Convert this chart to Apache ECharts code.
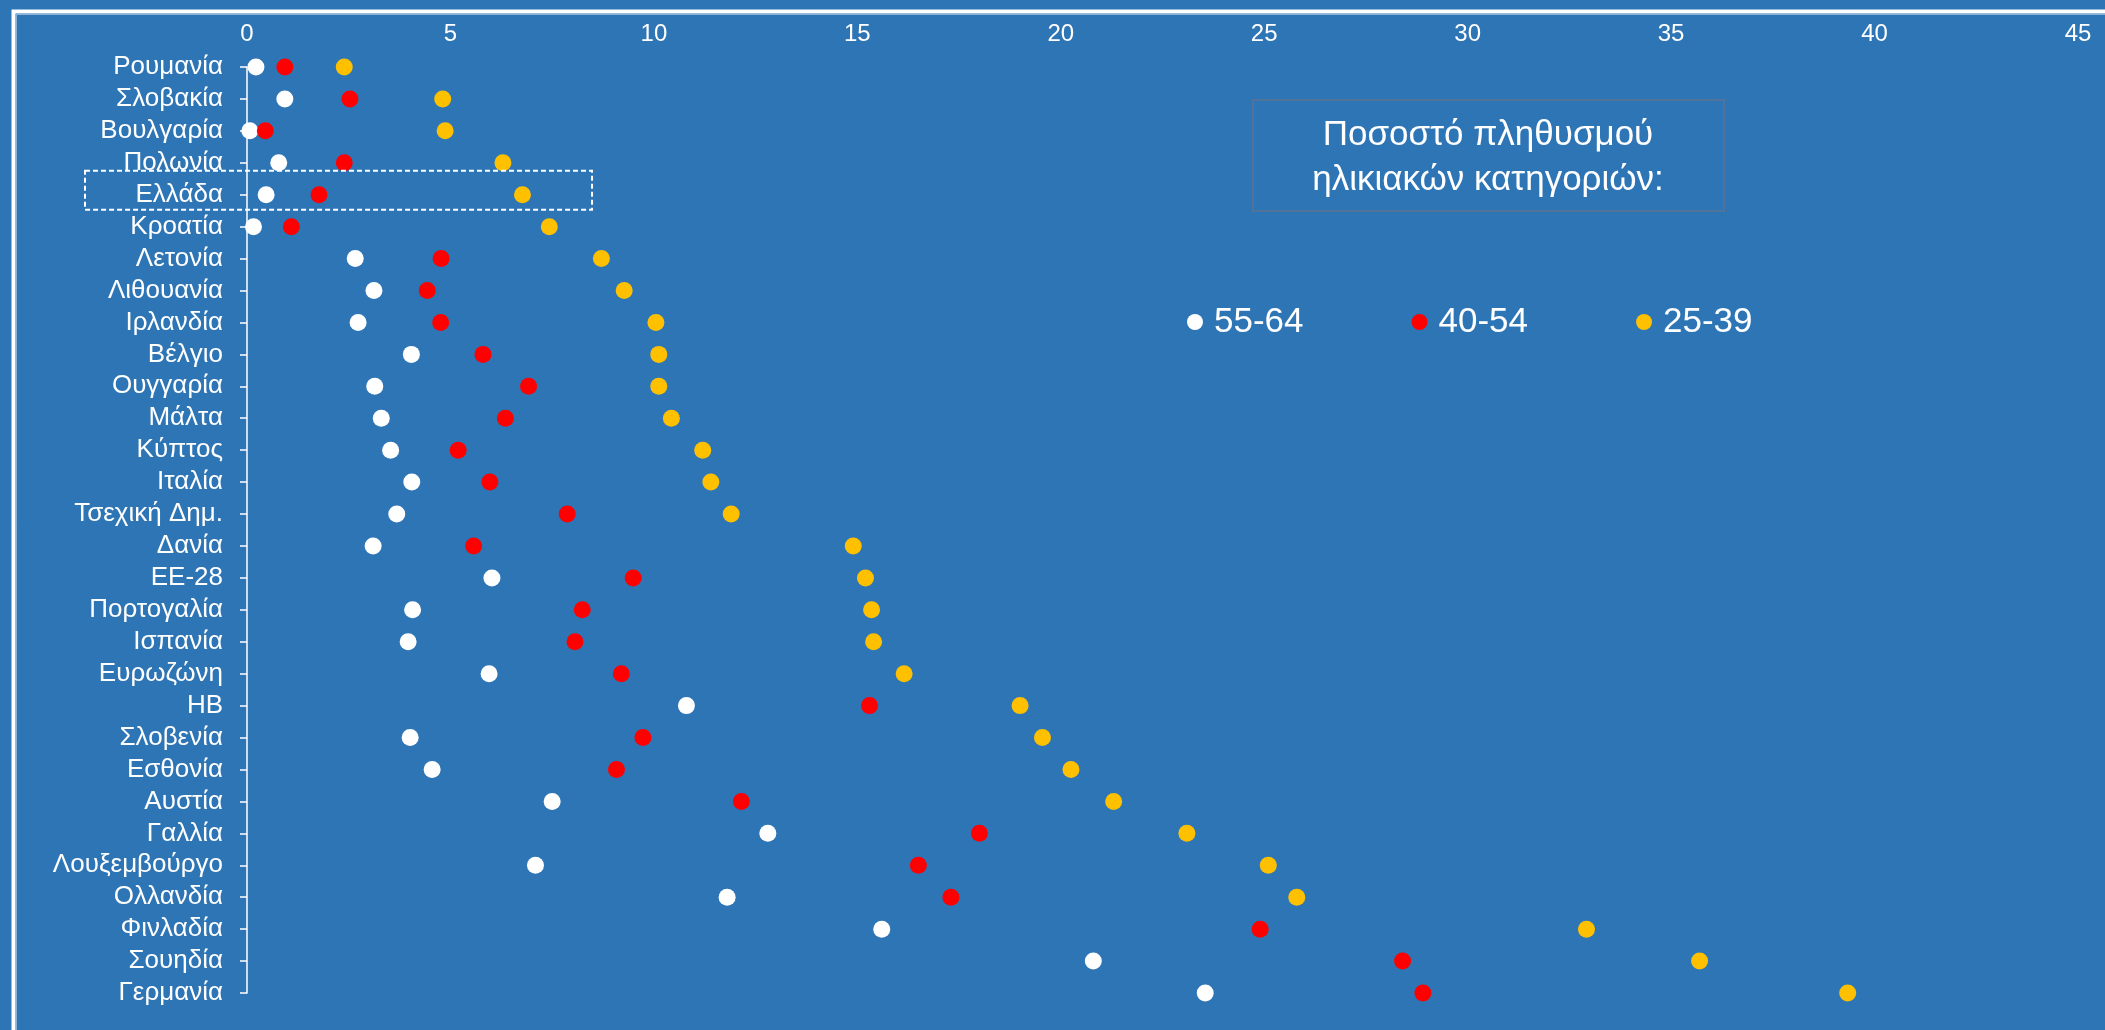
<!DOCTYPE html>
<html>
<head>
<meta charset="utf-8">
<script src="https://cdn.jsdelivr.net/npm/echarts@6/dist/echarts.min.js"></script>
<style>
html,body{margin:0;padding:0;background:#2E75B6;}
#chart{width:2105px;height:1030px;}
</style>
</head>
<body>
<div id="chart"></div>
<script>
const categories = ['Ρουμανία','Σλοβακία','Βουλγαρία','Πολωνία','Ελλάδα','Κροατία','Λετονία','Λιθουανία','Ιρλανδία','Βέλγιο','Ουγγαρία','Μάλτα','Κύπτος','Ιταλία','Τσεχική Δημ.','Δανία','ΕΕ-28','Πορτογαλία','Ισπανία','Ευρωζώνη','ΗΒ','Σλοβενία','Εσθονία','Αυστία','Γαλλία','Λουξεμβούργο','Ολλανδία','Φινλαδία','Σουηδία','Γερμανία'];
const seriesNames = ['55-64','40-54','25-39'];
const age55_64 = [0.22,0.93,0.07,0.78,0.47,0.16,2.66,3.12,2.73,4.04,3.14,3.3,3.53,4.05,3.68,3.1,6.02,4.07,3.96,5.95,10.8,4.01,4.55,7.5,12.8,7.09,11.8,15.6,20.8,23.55];
const age40_54 = [0.93,2.53,0.45,2.39,1.77,1.09,4.77,4.43,4.76,5.8,6.92,6.35,5.19,5.97,7.87,5.57,9.49,8.24,8.06,9.2,15.3,9.73,9.08,12.15,18.0,16.5,17.3,24.9,28.4,28.9];
const age25_39 = [2.39,4.81,4.87,6.29,6.77,7.43,8.71,9.27,10.05,10.12,10.12,10.43,11.2,11.4,11.9,14.9,15.2,15.35,15.4,16.15,19.0,19.55,20.25,21.3,23.1,25.1,25.8,32.92,35.7,39.34];
const titleLines = ['Ποσοστό πληθυσμού','ηλικιακών κατηγοριών:'];
const highlighted = 'Ελλάδα';

const FONT = '"Liberation Sans", Arial, sans-serif';
const colors = ['#FFFFFF','#FF0000','#FFC000'];
const allValues = [age55_64, age40_54, age25_39];

const chart = echarts.init(document.getElementById('chart'), null, {renderer:'canvas'});

const option = {
  backgroundColor: '#2E75B6',
  animation: false,
  textStyle: {fontFamily: FONT},
  grid: {left: 247, right: 27, top: 67, bottom: 37, containLabel: false},
  legend: {
    left: 1182, top: 297,
    itemWidth: 16, itemHeight: 16, itemGap: 108,
    icon: 'circle',
    data: seriesNames,
    textStyle: {color:'#FFFFFF', fontSize: 35, fontFamily: FONT, lineHeight: 40, padding:[0,0,0,6]}
  },
  xAxis: {
    type: 'value', position: 'top', min: 0, max: 45, interval: 5,
    axisLine: {show:false}, axisTick: {show:false}, splitLine: {show:false},
    axisLabel: {color:'#FFFFFF', fontSize: 24, fontFamily: FONT, margin: 21}
  },
  yAxis: {
    type: 'category', data: categories, inverse: true, boundaryGap: false,
    axisLine: {show:true, lineStyle:{color:'#FFFFFF', width:1.5}},
    axisTick: {show:true, length: 7, lineStyle:{color:'#FFFFFF', width:1.5}},
    splitLine: {show:false},
    axisLabel: {color:'#FFFFFF', fontSize: 26, fontFamily: FONT, margin: 24, interval: 0}
  },
  series: seriesNames.map((n, k) => ({
    name: n, type: 'scatter', symbol: 'circle', symbolSize: 17,
    itemStyle: {color: colors[k], opacity: 1},
    data: categories.map((c, i) => [allValues[k][i], c]),
    z: 3 + k
  }))
};
chart.setOption(option);

// annotations positioned from the axes
const yG = chart.convertToPixel({yAxisIndex:0}, highlighted);
const xRight = chart.convertToPixel({xAxisIndex:0}, 8.48);
chart.setOption({
  graphic: [
    {type:'rect', left: 11, top: 9, shape:{x:0,y:0,width:2300,height:1200},
     style:{fill:'none', stroke:'#FFFFFF', lineWidth:4}, silent:true},
    {type:'rect', left: 14, top: 12, shape:{x:0,y:0,width:2300,height:1200},
     style:{fill:'none', stroke:'rgba(255,255,255,0.45)', lineWidth:1}, silent:true},
    {type:'rect', shape:{x:85, y:yG-24, width:xRight-85, height:39},
     style:{fill:'none', stroke:'#FFFFFF', lineWidth:2, lineDash:[5,3]}, silent:true, z:10},
    {type:'rect', shape:{x:1253, y:100, width:471, height:111},
     style:{fill:'none', stroke:'#51739A', lineWidth:2}, silent:true},
    {type:'text', x:1488, y:135, style:{text:titleLines[0], fill:'#FFFFFF', font:'35px ' + FONT, textAlign:'center', textVerticalAlign:'middle'}, silent:true},
    {type:'text', x:1488, y:180, style:{text:titleLines[1], fill:'#FFFFFF', font:'35px ' + FONT, textAlign:'center', textVerticalAlign:'middle'}, silent:true}
  ]
});
</script>
</body>
</html>
